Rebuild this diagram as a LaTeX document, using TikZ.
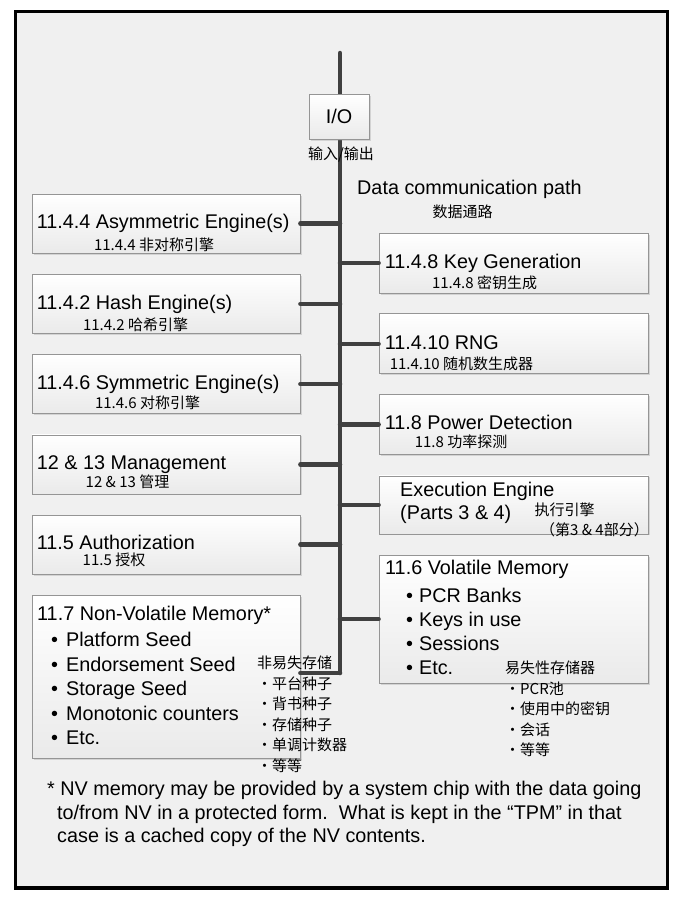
\documentclass[tikz,border=0pt]{standalone}
\usepackage{fontspec}
\setmainfont{Liberation Sans}
\newfontfamily\cjk{Noto Sans CJK SC}
\usetikzlibrary{positioning,shadows}
\definecolor{panel}{HTML}{F0F0F0}
\definecolor{boxlo}{HTML}{EAEAEA}
\definecolor{rim}{HTML}{959595}
\definecolor{busgray}{HTML}{404040}
\newcommand{\nvb}{\hspace*{14pt}\textbullet\hspace{8pt}}
\newcommand{\vmb}{\hspace*{21pt}\textbullet\hspace{6pt}}
\begin{document}
\begin{tikzpicture}[x=1pt,y=-1pt,
  blk/.style={draw=rim,line width=.8pt,top color=white,bottom color=boxlo,
    minimum width=268pt,minimum height=59pt,inner sep=0pt,
    drop shadow={shadow xshift=1.5pt,shadow yshift=-1.5pt,opacity=.25}},
  rblk/.style={blk,minimum width=269pt},
  ttl/.style={font=\fontsize{19.8}{24.5}\selectfont,inner sep=0pt,align=left},
  tline/.style={ttl,text height=14.5pt,text depth=4pt},
  sub/.style={font=\cjk\fontsize{15}{20.5}\selectfont,inner sep=0pt,align=left},
  bus/.style={draw=busgray,line width=4.5pt,line cap=round}]
\useasboundingbox (0,0) rectangle (673,897);
\draw[line width=3.5pt,fill=panel] (15.5,11.5) rectangle (667.5,888);
\coordinate (top) at (340,53);
\coordinate (bot) at (340,673);
\draw[bus] (top) -- (bot);
\node[blk,minimum width=60pt,minimum height=45pt,font=\fontsize{19.8}{24}\selectfont] (io) at (339,116.5) {I/O};
\node[sub] (ioc) at (341,155) {输入/输出};
\node[ttl,anchor=west] (path) at (357,189) {Data communication path};
\node[sub] (pathc) at (462.5,212) {数据通路};
% left column
\node[blk] (asym) at (166,223.5) {};
\node[blk,below=20.5pt of asym] (hash) {};
\node[blk,below=20.5pt of hash] (sym) {};
\node[blk,below=20.5pt of sym] (mgmt) {};
\node[blk,below=20.5pt of mgmt] (auth) {};
\node[blk,below=20.5pt of auth,minimum height=163pt] (nv) {};
% right column
\node[rblk,minimum height=60pt] (keygen) at (513.5,263) {};
\node[rblk,minimum height=60pt,below=20pt of keygen] (rng) {};
\node[rblk,minimum height=60pt,below=20pt of rng] (power) {};
\node[rblk,minimum height=58pt,below=20.5pt of power] (exec) {};
\node[rblk,minimum height=128pt,below=20.5pt of exec] (vol) {};
% titles
\node[tline,right=5pt of asym.west] (asymt) {11.4.4 Asymmetric Engine(s)};
\node[tline,right=5pt of hash.west] (hasht) {11.4.2 Hash Engine(s)};
\node[tline,right=5pt of sym.west] (symt) {11.4.6 Symmetric Engine(s)};
\node[tline,right=5pt of mgmt.west] (mgmtt) {12 \& 13 Management};
\node[tline,right=5pt of auth.west] (autht) {11.5 Authorization};
\node[tline,right=6pt of keygen.west] (keygent) {11.4.8 Key Generation};
\node[tline,right=6pt of rng.west] (rngt) {11.4.10 RNG};
\node[tline,right=6pt of power.west] (powert) {11.8 Power Detection};
\node[ttl,anchor=west,font=\fontsize{19.8}{23}\selectfont] (exect) at (400,502.5) {Execution Engine\\(Parts 3 \& 4)};
\node[ttl,anchor=north west] (nvt) at (37,606) {11.7 Non-Volatile Memory*\\[1.5pt]\nvb Platform Seed\\\nvb Endorsement Seed\\\nvb Storage Seed\\\nvb Monotonic counters\\\nvb Etc.};
\node[ttl,anchor=north west,font=\fontsize{19.8}{24}\selectfont] (volt) at (385,560) {11.6 Volatile Memory\\[4pt]\vmb PCR Banks\\\vmb Keys in use\\\vmb Sessions\\\vmb Etc.};
% chinese labels
\node[sub] (asymc) at (154,245) {11.4.4 非对称引擎};
\node[sub] (hashc) at (135.5,325) {11.4.2 哈希引擎};
\node[sub] (symc) at (147.5,403) {11.4.6 对称引擎};
\node[sub] (mgmtc) at (127.5,482) {12 \& 13 管理};
\node[sub] (authc) at (114,560) {11.5 授权};
\node[sub] (keygenc) at (484.5,283) {11.4.8 密钥生成};
\node[sub] (rngc) at (461.5,364) {11.4.10 随机数生成器};
\node[sub] (powerc) at (461,442) {11.8 功率探测};
\node[sub] (execc) at (564.5,510) {执行引擎};
\node[sub,anchor=east] (execp) at (649,530) {（第3 \& 4部分）};
\node[sub,anchor=north west] (nvc) at (257,656) {非易失存储\\・平台种子\\・背书种子\\・存储种子\\・单调计数器\\・等等};
\node[sub,anchor=north west] (volc) at (505,661) {易失性存储器\\・PCR池\\・使用中的密钥\\・会话\\・等等};
% connectors
\draw[bus] (bot) -- (bot -| nv.east);
\draw[bus] (asym.east) -- (asym.east -| top);
\draw[bus] (hash.east) -- (hash.east -| top);
\draw[bus] (sym.east) -- (sym.east -| top);
\draw[bus] (mgmt.east) -- (mgmt.east -| top);
\draw[bus] (auth.east) -- (auth.east -| top);
\draw[bus] (keygen.west) -- (keygen.west -| top);
\draw[bus] (rng.west) -- (rng.west -| top);
\draw[bus] (power.west) -- (power.west -| top);
\draw[bus] (exec.west) -- (exec.west -| top);
\draw[bus] (vol.west) -- (vol.west -| top);
% footnote
\node[ttl,anchor=north west,font=\fontsize{19.8}{23.5}\selectfont] (note) at (47,781) {* NV memory may be provided by a system chip with the data going\\\hspace*{10pt}to/from NV in a protected form.\ \ What is kept in the “TPM” in that\\\hspace*{10pt}case is a cached copy of the NV contents.};
\end{tikzpicture}
\end{document}
